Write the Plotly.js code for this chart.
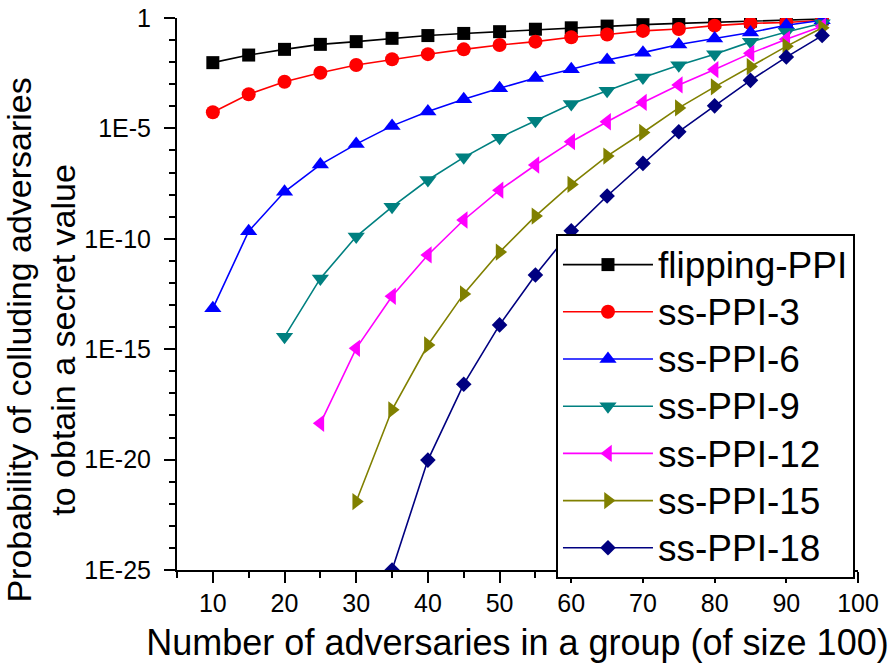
<!DOCTYPE html>
<html>
<head>
<meta charset="utf-8">
<script src="https://cdn.plot.ly/plotly-3.0.1.min.js"></script>
<style>html,body{margin:0;padding:0;background:#fff;}</style>
</head>
<body>
<div id="chart" style="width:890px;height:665px;"></div>
<script>
// x values: number of adversaries in a group
const xAll = [10,15,20,25,30,35,40,45,50,55,60,65,70,75,80,85,90,95];
const xFrom20 = [20,25,30,35,40,45,50,55,60,65,70,75,80,85,90,95];
const xFrom25 = [25,30,35,40,45,50,55,60,65,70,75,80,85,90,95];
const xFrom30 = [30,35,40,45,50,55,60,65,70,75,80,85,90,95];
const xFrom35 = [35,40,45,50,55,60,65,70,75,80,85,90,95];

const flippingPPI = [0.0095,0.021,0.038,0.064,0.085,0.12,0.16,0.20,0.24,0.31,0.36,0.43,0.50,0.57,0.64,0.72,0.81,0.90];
const ssPPI3  = [5.4e-5,3.5e-4,1.3e-3,3.3e-3,7.4e-3,1.35e-2,2.3e-2,3.8e-2,6.0e-2,8.5e-2,0.135,0.18,0.26,0.32,0.45,0.57,0.63,0.79];
const ssPPI6  = [7.1e-14,2.2e-10,1.35e-8,2.3e-7,1.95e-6,1.3e-5,5.8e-5,2.1e-4,6.6e-4,1.9e-3,4.8e-3,1.26e-2,2.7e-2,6.3e-2,0.117,0.22,0.47,0.79];
const ssPPI9  = [3.7e-15,1.6e-12,1.26e-10,2.8e-9,4.6e-8,4.9e-7,3.8e-6,2.2e-5,1.26e-4,5.1e-4,2.0e-3,7.2e-3,2.3e-2,8.3e-2,0.23,0.58];
const ssPPI12 = [4.4e-19,1.1e-15,2.5e-13,1.86e-11,7.1e-10,1.6e-8,2.2e-7,2.5e-6,2.0e-5,1.5e-4,9.3e-4,4.6e-3,2.5e-2,0.11,0.42];
const ssPPI15 = [1.26e-22,1.8e-18,1.55e-15,3.2e-13,2.5e-11,1.07e-9,2.9e-8,5.6e-7,6.5e-6,8.5e-5,7.6e-4,6.3e-3,5.2e-2,0.36];
const ssPPI18 = [1e-25,9.5e-21,2.6e-17,1.26e-14,2.3e-12,2.3e-10,8.7e-9,2.6e-7,7.1e-6,1.05e-4,1.5e-3,1.7e-2,0.16];

const seriesNames = ['flipping-PPI','ss-PPI-3','ss-PPI-6','ss-PPI-9','ss-PPI-12','ss-PPI-15','ss-PPI-18'];

const xTickVals = [10,20,30,40,50,60,70,80,90,100];
const xMinorVals = [5,15,25,35,45,55,65,75,85,95];
const yTickVals = [1,1e-5,1e-10,1e-15,1e-20,1e-25];
const yTickText = ['1','1E-5','1E-10','1E-15','1E-20','1E-25'];
const yMinorVals = [1e-1,1e-2,1e-3,1e-4,1e-6,1e-7,1e-8,1e-9,1e-11,1e-12,1e-13,1e-14,1e-16,1e-17,1e-18,1e-19,1e-21,1e-22,1e-23,1e-24];

const FONT = 'Liberation Sans, Arial, sans-serif';

function tr(x, y, name, color, symbol, size) {
  return {
    type: 'scatter', mode: 'lines+markers', x: x, y: y,
    name: '<span style="font-size:37px">' + name + '</span>',
    line: {color: color, width: 1.6},
    marker: {color: color, symbol: symbol, size: size, line: {width: 0}}
  };
}

const data = [
  tr(xAll, flippingPPI, seriesNames[0], '#000000', 'square', 13),
  tr(xAll, ssPPI3, seriesNames[1], '#FF0000', 'circle', 14),
  tr(xAll, ssPPI6, seriesNames[2], '#0000FF', 'triangle-up', 15),
  tr(xFrom20, ssPPI9, seriesNames[3], '#008080', 'triangle-down', 15),
  tr(xFrom25, ssPPI12, seriesNames[4], '#FF00FF', 'triangle-left', 15),
  tr(xFrom30, ssPPI15, seriesNames[5], '#808000', 'triangle-right', 15),
  tr(xFrom35, ssPPI18, seriesNames[6], '#000080', 'diamond', 12)
];

const layout = {
  width: 890, height: 665,
  margin: {l: 177, r: 32, t: 18, b: 95, pad: 0},
  paper_bgcolor: '#ffffff', plot_bgcolor: '#ffffff',
  font: {family: FONT, color: '#000000'},
  showlegend: true,
  xaxis: {
    range: [5, 100], tickmode: 'array', tickvals: xTickVals,
    ticks: 'outside', ticklen: 11, tickwidth: 2, tickcolor: '#000',
    showline: true, linewidth: 2, linecolor: '#000', mirror: false,
    showgrid: false, zeroline: false, ticklabelstandoff: -1,
    tickfont: {family: FONT, size: 25, color: '#000'},
    minor: {tickmode: 'array', tickvals: xMinorVals, ticks: 'outside', ticklen: 6, tickwidth: 2, tickcolor: '#000', showgrid: false},
    title: {text: 'Number of adversaries in a group (of size 100)', font: {family: FONT, size: 36, color: '#000'}, standoff: 14}
  },
  yaxis: {
    type: 'log', range: [-25, 0], tickmode: 'array', tickvals: yTickVals, ticktext: yTickText,
    ticks: 'outside', ticklen: 11, tickwidth: 2, tickcolor: '#000',
    showline: true, linewidth: 2, linecolor: '#000', mirror: false,
    showgrid: false, zeroline: false, ticklabelstandoff: 8,
    tickfont: {family: FONT, size: 25, color: '#000'},
    minor: {tickmode: 'array', tickvals: yMinorVals, ticks: 'outside', ticklen: 6, tickwidth: 2, tickcolor: '#000', showgrid: false}
  },
  annotations: [{
    text: 'Probability of colluding adversaries<br>to obtain a secret value',
    textangle: -90, xref: 'paper', yref: 'paper',
    x: -0.2, y: 0.417, xanchor: 'center', yanchor: 'middle',
    showarrow: false, font: {family: FONT, size: 34, color: '#000'}
  }],
  legend: {
    x: 0.5565, y: 0.6087, xanchor: 'left', yanchor: 'top',
    bgcolor: '#ffffff', bordercolor: '#000', borderwidth: 2,
    font: {family: FONT, size: 34, color: '#000'},
    itemwidth: 90, tracegroupgap: 0
  }
};

Plotly.newPlot('chart', data, layout, {displayModeBar: false, staticPlot: true});
</script>
</body>
</html>
